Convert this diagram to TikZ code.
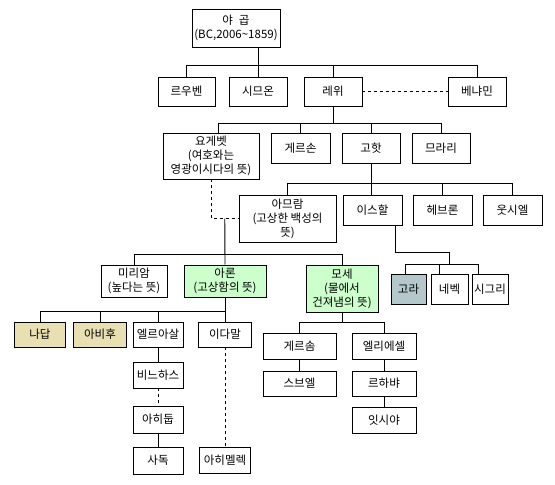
\documentclass[tikz,border=0pt]{standalone}
\usepackage{fontspec}
\setmainfont{Noto Sans CJK KR}
\definecolor{sonfill}{HTML}{CCFFCC}
\definecolor{tanfill}{HTML}{E8DFB3}
\definecolor{korfill}{HTML}{B4C8CC}

\begin{document}
\begin{tikzpicture}[x=1pt,y=-1pt,line width=0.9pt,
  box/.style 2 args={draw,inner sep=0pt,align=center,minimum width=#1,minimum height=#2,
    font=\fontsize{11.5}{14}\selectfont},
  kin/.style={dash pattern=on 3pt off 3pt}]
  \useasboundingbox (0,0) rectangle (555,485);
  % ============ 야곱과 아들들 ============
  \node[box={88pt}{38pt}] (jacob) at (236,28) {야\hspace{6pt}곱\\(BC,2006\textasciitilde1859)};
  \node[box={57pt}{29pt}] (reuben) at (186.5,91.5) {르우벤};
  \node[box={58pt}{29pt}] (simeon) at (258,91.5) {시므온};
  \node[box={58pt}{29pt}] (levi) at (333,91.5) {레위};
  \node[box={58pt}{29pt}] (benjamin) at (477,91.5) {베냐민};
  % ============ 레위의 아들들 ============
  \node[box={96pt}{46pt}] (jochebed) at (211,156) {요게벳\\(여호와는\\영광이시다의 뜻)};
  \node[box={59pt}{30pt}] (gershon) at (300.5,148) {게르손};
  \node[box={58pt}{30pt}] (kohath) at (371,148) {고핫};
  \node[box={58pt}{30pt}] (merari) at (441,148) {므라리};
  % ============ 고핫의 아들들 ============
  \node[box={97pt}{47pt}] (amram) at (287.5,218.5) {아므람\\(고상한 백성의\\뜻)};
  \node[box={59pt}{30pt}] (izhar) at (372.5,210) {이스할};
  \node[box={59pt}{30pt}] (hebron) at (442.5,210) {헤브론};
  \node[box={59pt}{30pt}] (uzziel) at (512.5,210) {웃시엘};
  % ============ 아므람의 자녀 ============
  \node[box={66pt}{32pt}] (miriam) at (134,281) {미리암\\(높다는 뜻)};
  \node[box={82pt}{32pt},fill=sonfill] (aaron) at (225,281) {아론\\(고상함의 뜻)};
  \node[box={72pt}{47pt},fill=sonfill] (moses) at (342,288.5) {모세\\(물에서\\건져냄의 뜻)};
  % ============ 이스할의 아들들 ============
  \node[box={35pt}{30pt},fill=korfill] (korah) at (408.5,289) {고라};
  \node[box={37pt}{30pt}] (nepheg) at (449.5,289) {네벡};
  \node[box={36pt}{30pt}] (zichri) at (490,289) {시그리};
  % ============ 아론의 자손 ============
  \node[box={51pt}{25pt},fill=tanfill] (nadab) at (40,334.5) {나답};
  \node[box={53pt}{25pt},fill=tanfill] (abihu) at (100,334.5) {아비후};
  \node[box={50pt}{25pt}] (eleazar) at (158,334.5) {엘르아살};
  \node[box={53pt}{25pt}] (ithamar) at (225,334.5) {이다말};
  \node[box={50pt}{26pt}] (phinehas) at (158,375) {비느하스};
  \node[box={50pt}{27pt}] (ahitub) at (158,419.5) {아히둡};
  \node[box={50pt}{27pt}] (zadok) at (158,460.5) {사독};
  \node[box={51pt}{26pt}] (ahimelech) at (225,460) {아히멜렉};
  % ============ 모세의 자손 ============
  \node[box={73pt}{26pt}] (gershom) at (299.5,346) {게르솜};
  \node[box={64pt}{26pt}] (eliezer) at (384,346) {엘리에셀};
  \node[box={73pt}{25pt}] (shebuel) at (299.5,383.5) {스브엘};
  \node[box={64pt}{25pt}] (rehabiah) at (384,383.5) {르하뱌};
  \node[box={64pt}{26pt}] (isshiah) at (384,420) {잇시야};
  % ---------- 연결선 ----------
  \coordinate (busJ) at (0,65);
  \draw (jacob.south -| simeon.north) -- (simeon.north);
  \draw (reuben.north) -- (reuben.north |- busJ) -- (benjamin.north |- busJ) -- (benjamin.north);
  \draw (levi.north) -- (levi.north |- busJ);
  \draw[kin] (levi.east) -- (benjamin.west);
  \coordinate (busL) at (0,123);
  \draw (levi.south) -- (levi.south |- busL);
  \draw ([xshift=7pt]jochebed.north) -- ([xshift=7pt]jochebed.north |- busL) -- (merari.north |- busL) -- (merari.north);
  \draw (gershon.north) -- (gershon.north |- busL);
  \draw (kohath.north) -- (kohath.north |- busL);
  \coordinate (busK) at (0,183);
  \draw (kohath.south) -- (kohath.south |- izhar.north);
  \draw (amram.north) -- (amram.north |- busK) -- (uzziel.north |- busK) -- (uzziel.north);
  \draw (hebron.north) -- (hebron.north |- busK);
  % 요게벳 - 아므람
  \draw[kin] (jochebed.south) |- (amram.west);
  \path (jochebed.south |- amram.west) -- (amram.west) coordinate[pos=0.5] (wed);
  \coordinate (busA) at (0,254);
  \draw (wed) -- (aaron.north);
  \draw (miriam.north) -- (miriam.north |- busA) -- (moses.north |- busA) -- (moses.north);
  % 아론
  \coordinate (busR) at (0,311);
  \draw (aaron.south) -- (ithamar.north);
  \draw (nadab.north) -- (nadab.north |- busR) -- (ithamar.north |- busR);
  \draw (abihu.north) -- (abihu.north |- busR);
  \draw (eleazar.north) -- (eleazar.north |- busR);
  \draw (eleazar.south) -- (phinehas.north);
  \draw[kin] (phinehas.south) -- (ahitub.north);
  \draw (ahitub.south) -- (zadok.north);
  \draw[kin] (ithamar.south) -- (ahimelech.north);
  % 모세
  \coordinate (busM) at (0,322);
  \draw (moses.south) -- (moses.south |- busM);
  \draw (gershom.north) -- (gershom.north |- busM) -- (eliezer.north |- busM) -- (eliezer.north);
  \draw (gershom.south) -- (shebuel.north);
  \draw (eliezer.south) -- (rehabiah.north);
  \draw (rehabiah.south) -- (isshiah.north);
  % 이스할
  \coordinate (izharout) at ([xshift=22.5pt]izhar.south);
  \coordinate (kink) at (449,252);
  \coordinate (busI) at (0,264);
  \draw (izharout) |- (kink) -- (kink |- busI);
  \draw ([xshift=-3.5pt]korah.north) -- ([xshift=-3.5pt]korah.north |- busI) -- ([xshift=-12pt]zichri.north |- busI) -- ([xshift=-12pt]zichri.north);
  \draw ([xshift=-10.5pt]nepheg.north) -- ([xshift=-10.5pt]nepheg.north |- busI);
\end{tikzpicture}
\end{document}
